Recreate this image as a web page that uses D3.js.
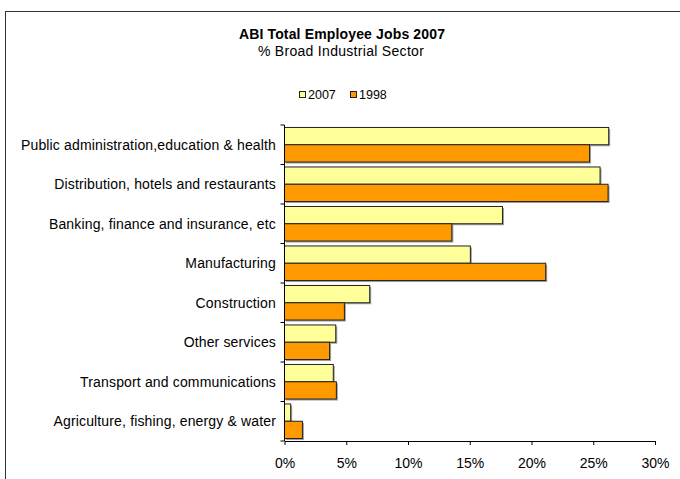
<!DOCTYPE html>
<html>
<head>
<meta charset="utf-8">
<script src="https://cdn.jsdelivr.net/npm/d3@7"></script>
<style>
  html, body { margin: 0; padding: 0; background: #fff; }
  svg text { font-family: "Liberation Sans", Arial, sans-serif; fill: #000; }
</style>
</head>
<body>
<svg id="chart" width="680" height="479"></svg>
<script>
// Broad industrial sectors, top to bottom
const categories = [
  "Public administration,education & health",
  "Distribution, hotels and restaurants",
  "Banking, finance and insurance, etc",
  "Manufacturing",
  "Construction",
  "Other services",
  "Transport and communications",
  "Agriculture, fishing, energy & water"
];
const seriesNames = ["2007", "1998"];
const values2007 = [26.25, 25.55, 17.65, 15.05, 6.9, 4.15, 3.95, 0.5];
const values1998 = [24.7, 26.2, 13.55, 21.15, 4.85, 3.65, 4.2, 1.45];
const xTicks = [0, 5, 10, 15, 20, 25, 30];
const seriesColors = ["#FFFF99", "#FF9900"];

const svg = d3.select("#chart");

// outer chart frame
svg.append("rect")
  .attr("x", 5.5).attr("y", 11.5)
  .attr("width", 690).attr("height", 490)
  .attr("fill", "none").attr("stroke", "#333").attr("stroke-width", 1);

// titles
svg.append("text")
  .attr("x", 342).attr("y", 39)
  .attr("text-anchor", "middle")
  .style("font-size", "14px").style("font-weight", "bold")
  .style("letter-spacing", "0.15px")
  .text("ABI Total Employee Jobs 2007");
svg.append("text")
  .attr("x", 341).attr("y", 56)
  .attr("text-anchor", "middle")
  .style("font-size", "14px")
  .style("letter-spacing", "0.3px")
  .text("% Broad Industrial Sector");

// plot area
const plotLeft = 284.5, plotRight = 655, plotTop = 125, plotBottom = 441;

const x = d3.scaleLinear().domain([0, 30]).range([plotLeft, plotRight]);
const y = d3.scaleBand().domain(categories).range([plotTop, plotBottom]).paddingInner(0.125).paddingOuter(0.0625);
const ySeries = d3.scaleBand().domain(seriesNames).range([0, y.bandwidth()]);

const rows = categories.map((c, i) => ({ cat: c, vals: [values2007[i], values1998[i]] }));

const g = svg.append("g");
const groups = g.selectAll("g.cat").data(rows).join("g")
  .attr("class", "cat")
  .attr("transform", d => `translate(0,${y(d.cat)})`);

// drop shadows
groups.selectAll("rect.shadow")
  .data(d => d.vals.map((v, k) => ({ v, s: seriesNames[k] })))
  .join("rect")
  .attr("class", "shadow")
  .attr("x", x(0) + 1.5)
  .attr("y", d => ySeries(d.s) + 1.5)
  .attr("width", d => x(d.v) - x(0))
  .attr("height", ySeries.bandwidth())
  .attr("fill", "#a0a0a0");

// bars
groups.selectAll("rect.bar")
  .data(d => d.vals.map((v, k) => ({ v, s: seriesNames[k], k })))
  .join("rect")
  .attr("class", "bar")
  .attr("x", x(0))
  .attr("y", d => ySeries(d.s))
  .attr("width", d => x(d.v) - x(0))
  .attr("height", ySeries.bandwidth())
  .attr("fill", d => seriesColors[d.k])
  .attr("stroke", "#222").attr("stroke-width", 1);

// x axis
const xAxis = svg.append("g")
  .attr("transform", `translate(0,${plotBottom})`)
  .call(d3.axisBottom(x).tickValues(xTicks).tickFormat(d => d + "%").tickSize(4).tickSizeOuter(0));
xAxis.select(".domain").attr("stroke", "#000");
xAxis.selectAll(".tick line").attr("stroke", "#000");
xAxis.selectAll("text")
  .attr("dy", "0")
  .attr("y", 27)
  .style("font-size", "14px")
  .style("font-family", "'Liberation Sans', Arial, sans-serif");

// y axis: ticks at band boundaries
const boundaries = categories.map(c => y(c) - y.step() * y.paddingInner() / 2).concat([plotBottom]);
const yAxis = svg.append("g");
yAxis.append("line")
  .attr("x1", x(0)).attr("x2", x(0))
  .attr("y1", plotTop).attr("y2", plotBottom)
  .attr("stroke", "#000");
yAxis.selectAll("line.tk").data(boundaries).join("line")
  .attr("class", "tk")
  .attr("x1", x(0) - 4).attr("x2", x(0))
  .attr("y1", d => d).attr("y2", d => d)
  .attr("stroke", "#000");
yAxis.selectAll("text").data(categories).join("text")
  .attr("x", 276)
  .attr("y", d => y(d) + y.bandwidth() / 2 + 5)
  .attr("text-anchor", "end")
  .style("font-size", "14px")
  .style("letter-spacing", "0.15px")
  .text(d => d);

// legend
const legend = svg.append("g");
const legendX = [299, 350];
seriesNames.forEach((s, k) => {
  legend.append("rect")
    .attr("x", legendX[k] + 0.5).attr("y", 91.5)
    .attr("width", 6).attr("height", 6)
    .attr("fill", seriesColors[k]).attr("stroke", "#222");
  legend.append("text")
    .attr("x", legendX[k] + 9).attr("y", 99)
    .style("font-size", "12.5px")
    .text(s);
});
</script>
</body>
</html>
